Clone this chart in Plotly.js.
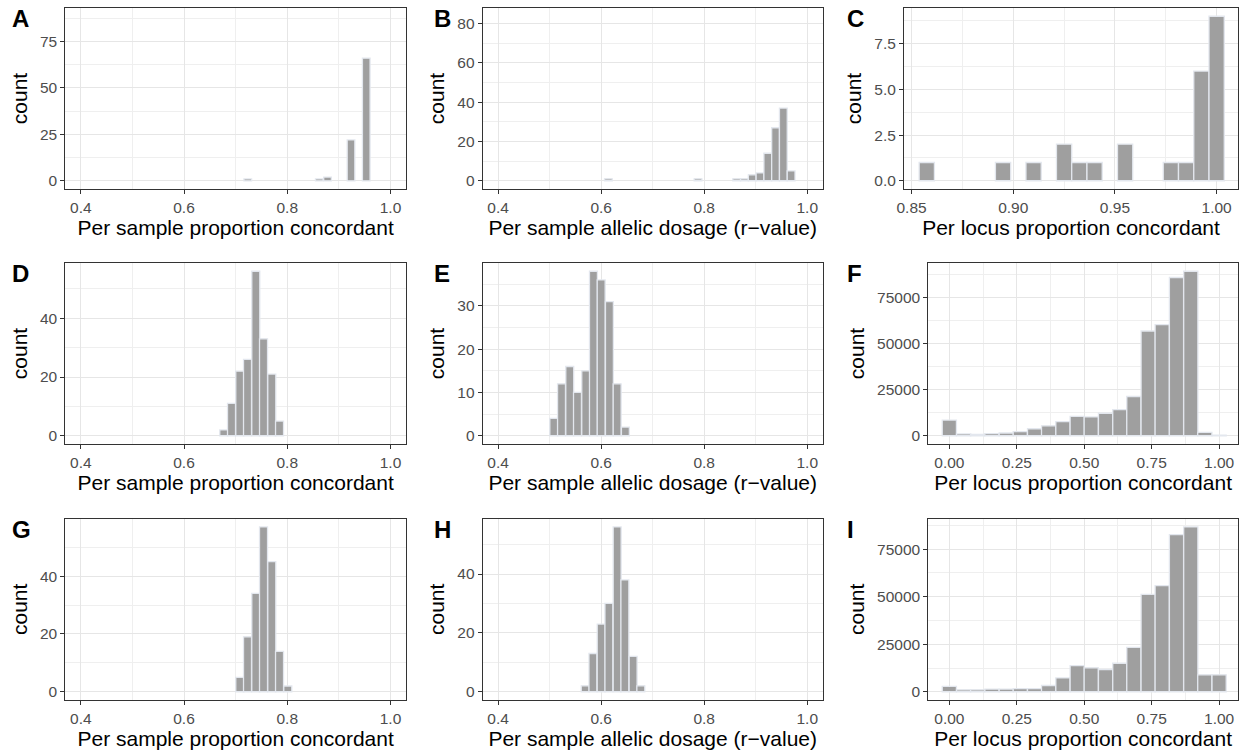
<!DOCTYPE html>
<html><head><meta charset="utf-8">
<script src="https://cdn.plot.ly/plotly-3.0.1.min.js"></script>
<style>html,body{margin:0;padding:0;background:#fff}</style>
</head><body><div id="chart" style="width:1247px;height:756px"></div>
<script>
// ---- data (bin centres and counts) ----
const A_bins = [0.7235, 0.862, 0.878, 0.9235, 0.953];
const A_counts = [1, 1, 2, 22, 66];
const B_bins = [0.614, 0.788, 0.863, 0.8781, 0.8932, 0.9083, 0.9234, 0.9385, 0.9536, 0.9687];
const B_counts = [1, 1, 1, 1, 3, 4, 14, 27, 37, 5];
const C_bins = [0.8575, 0.895, 0.91, 0.925, 0.9325, 0.94, 0.955, 0.9775, 0.985, 0.9925, 1.0];
const C_counts = [1, 1, 1, 2, 1, 1, 2, 1, 1, 6, 9];
const D_bins = [0.677, 0.692, 0.708, 0.723, 0.739, 0.754, 0.770, 0.785];
const D_counts = [2, 11, 22, 26, 56, 33, 21, 5];
const E_bins = [0.508, 0.523, 0.539, 0.554, 0.570, 0.585, 0.600, 0.616, 0.631, 0.647];
const E_counts = [4, 12, 16, 10, 15, 38, 36, 31, 12, 2];
const F_bins = [0.000, 0.053, 0.105, 0.158, 0.211, 0.263, 0.316, 0.368, 0.421, 0.474, 0.526, 0.579, 0.632, 0.684, 0.737, 0.789, 0.842, 0.895, 0.947, 1.000];
const F_counts = [8500, 1000, 800, 1200, 1500, 2200, 3800, 5400, 7700, 10500, 10200, 12200, 14200, 21300, 56800, 60200, 85800, 89200, 1800, 300];
const G_bins = [0.708, 0.723, 0.739, 0.754, 0.770, 0.785, 0.801];
const G_counts = [5, 19, 34, 57, 45, 14, 2];
const H_bins = [0.569, 0.584, 0.600, 0.615, 0.631, 0.646, 0.662, 0.677];
const H_counts = [2, 13, 23, 30, 56, 38, 12, 2];
const I_bins = F_bins;
const I_counts = [2800, 1000, 1000, 1400, 1400, 1600, 1700, 3300, 7300, 13800, 12600, 11700, 15000, 23400, 51200, 55800, 82700, 86700, 8900, 8900];

const panelLetters = ["A", "B", "C", "D", "E", "F", "G", "H", "I"];
const xTitles = ["Per sample proportion concordant", "Per sample allelic dosage (r\u2212value)", "Per locus proportion concordant",
                 "Per sample proportion concordant", "Per sample allelic dosage (r\u2212value)", "Per locus proportion concordant",
                 "Per sample proportion concordant", "Per sample allelic dosage (r\u2212value)", "Per locus proportion concordant"];
const yTitle = "count";

// ---- styling / layout ----
const W = 1247, H = 756;
const FONT = "Liberation Sans, Arial, Helvetica, sans-serif";
const panels = [
  {x: A_bins, y: A_counts, w: 0.0148, px: [65.3, 406], py: [8, 189], xr: [0.37, 1.03], yr: [-4.4, 93], xd: 0.2, xm: 0.1, xf: ".1f", yd: 25, ym: 12.5, yf: "d"},
  {x: B_bins, y: B_counts, w: 0.0151, px: [482.7, 822.7], py: [8, 189], xr: [0.37, 1.03], yr: [-4.2, 88], xd: 0.2, xm: 0.1, xf: ".1f", yd: 20, ym: 10, yf: "d"},
  {x: C_bins, y: C_counts, w: 0.0075, px: [904, 1238], py: [8, 189], xr: [0.8463, 1.0105], yr: [-0.45, 9.45], xd: 0.05, xm: 0.025, xf: ".2f", yd: 2.5, ym: 1.25, yf: ".1f"},
  {x: D_bins, y: D_counts, w: 0.0155, px: [65.3, 406], py: [263, 444], xr: [0.37, 1.03], yr: [-2.8, 58.8], xd: 0.2, xm: 0.1, xf: ".1f", yd: 20, ym: 10, yf: "d"},
  {x: E_bins, y: E_counts, w: 0.0154, px: [482.7, 822.7], py: [263, 444], xr: [0.37, 1.03], yr: [-1.9, 39.9], xd: 0.2, xm: 0.1, xf: ".1f", yd: 10, ym: 5, yf: "d"},
  {x: F_bins, y: F_counts, w: 0.0526, px: [928.3, 1238], py: [263, 444], xr: [-0.078, 1.07], yr: [-4460, 93660], xd: 0.25, xm: 0.125, xf: ".2f", yd: 25000, ym: 12500, yf: "d"},
  {x: G_bins, y: G_counts, w: 0.0155, px: [65.3, 406], py: [518.7, 700], xr: [0.37, 1.03], yr: [-2.85, 59.85], xd: 0.2, xm: 0.1, xf: ".1f", yd: 20, ym: 10, yf: "d"},
  {x: H_bins, y: H_counts, w: 0.0154, px: [482.7, 822.7], py: [518.7, 700], xr: [0.37, 1.03], yr: [-2.8, 58.8], xd: 0.2, xm: 0.1, xf: ".1f", yd: 20, ym: 10, yf: "d"},
  {x: I_bins, y: I_counts, w: 0.0526, px: [928.3, 1238], py: [518.7, 700], xr: [-0.078, 1.07], yr: [-4335, 91035], xd: 0.25, xm: 0.125, xf: ".2f", yd: 25000, ym: 12500, yf: "d"}
];
const letterPos = [[10, 3], [432, 3], [845, 3], [10, 258], [432, 258], [845, 258], [10, 514], [432, 514], [845, 514]];

const traces = [];
const layout = {
  width: W, height: H, margin: {l: 0, r: 0, t: 0, b: 0},
  paper_bgcolor: "#ffffff", plot_bgcolor: "#ffffff",
  showlegend: false, font: {family: FONT}, annotations: []
};
panels.forEach((p, i) => {
  const n = i + 1;
  const xa = n === 1 ? "x" : "x" + n, ya = n === 1 ? "y" : "y" + n;
  traces.push({
    type: "bar", x: p.x, y: p.y, width: p.w, xaxis: xa, yaxis: ya,
    marker: {color: "#9f9f9f", line: {color: "#e3e7ee", width: 1.3}},
    hoverinfo: "x+y"
  });
  const common = {
    showline: true, mirror: true, linecolor: "#333333", linewidth: 1,
    ticks: "outside", ticklen: 4, tickwidth: 1, tickcolor: "#333333",
    showgrid: true, gridcolor: "#e6e6e6", gridwidth: 1, zeroline: false,
    tickfont: {family: FONT, size: 15.5, color: "#4d4d4d"}, automargin: false
  };
  layout["xaxis" + (n === 1 ? "" : n)] = Object.assign({}, common, {
    anchor: ya, domain: [p.px[0] / W, p.px[1] / W], range: p.xr,
    tick0: 0, dtick: p.xd, tickformat: p.xf,
    minor: {tick0: p.xm, dtick: 2 * p.xm, showgrid: true, gridcolor: "#efefef", gridwidth: 1, ticks: ""},
    title: {text: xTitles[i], font: {family: FONT, size: 21, color: "#000000"}, standoff: 4}
  });
  layout["yaxis" + (n === 1 ? "" : n)] = Object.assign({}, common, {
    anchor: xa, domain: [1 - p.py[1] / H, 1 - p.py[0] / H], range: p.yr,
    tick0: 0, dtick: p.yd, tickformat: p.yf,
    minor: {tick0: p.ym, dtick: 2 * p.ym, showgrid: true, gridcolor: "#efefef", gridwidth: 1, ticks: ""},
    title: {text: yTitle, font: {family: FONT, size: 21, color: "#000000"}, standoff: 6}
  });
  layout.annotations.push({
    text: "<b>" + panelLetters[i] + "</b>", xref: "paper", yref: "paper",
    x: letterPos[i][0] / W, y: 1 - letterPos[i][1] / H, xanchor: "left", yanchor: "top",
    showarrow: false, font: {family: FONT, size: 24, color: "#000000"}
  });
});
Plotly.newPlot("chart", traces, layout, {staticPlot: true});
</script>
</body></html>
